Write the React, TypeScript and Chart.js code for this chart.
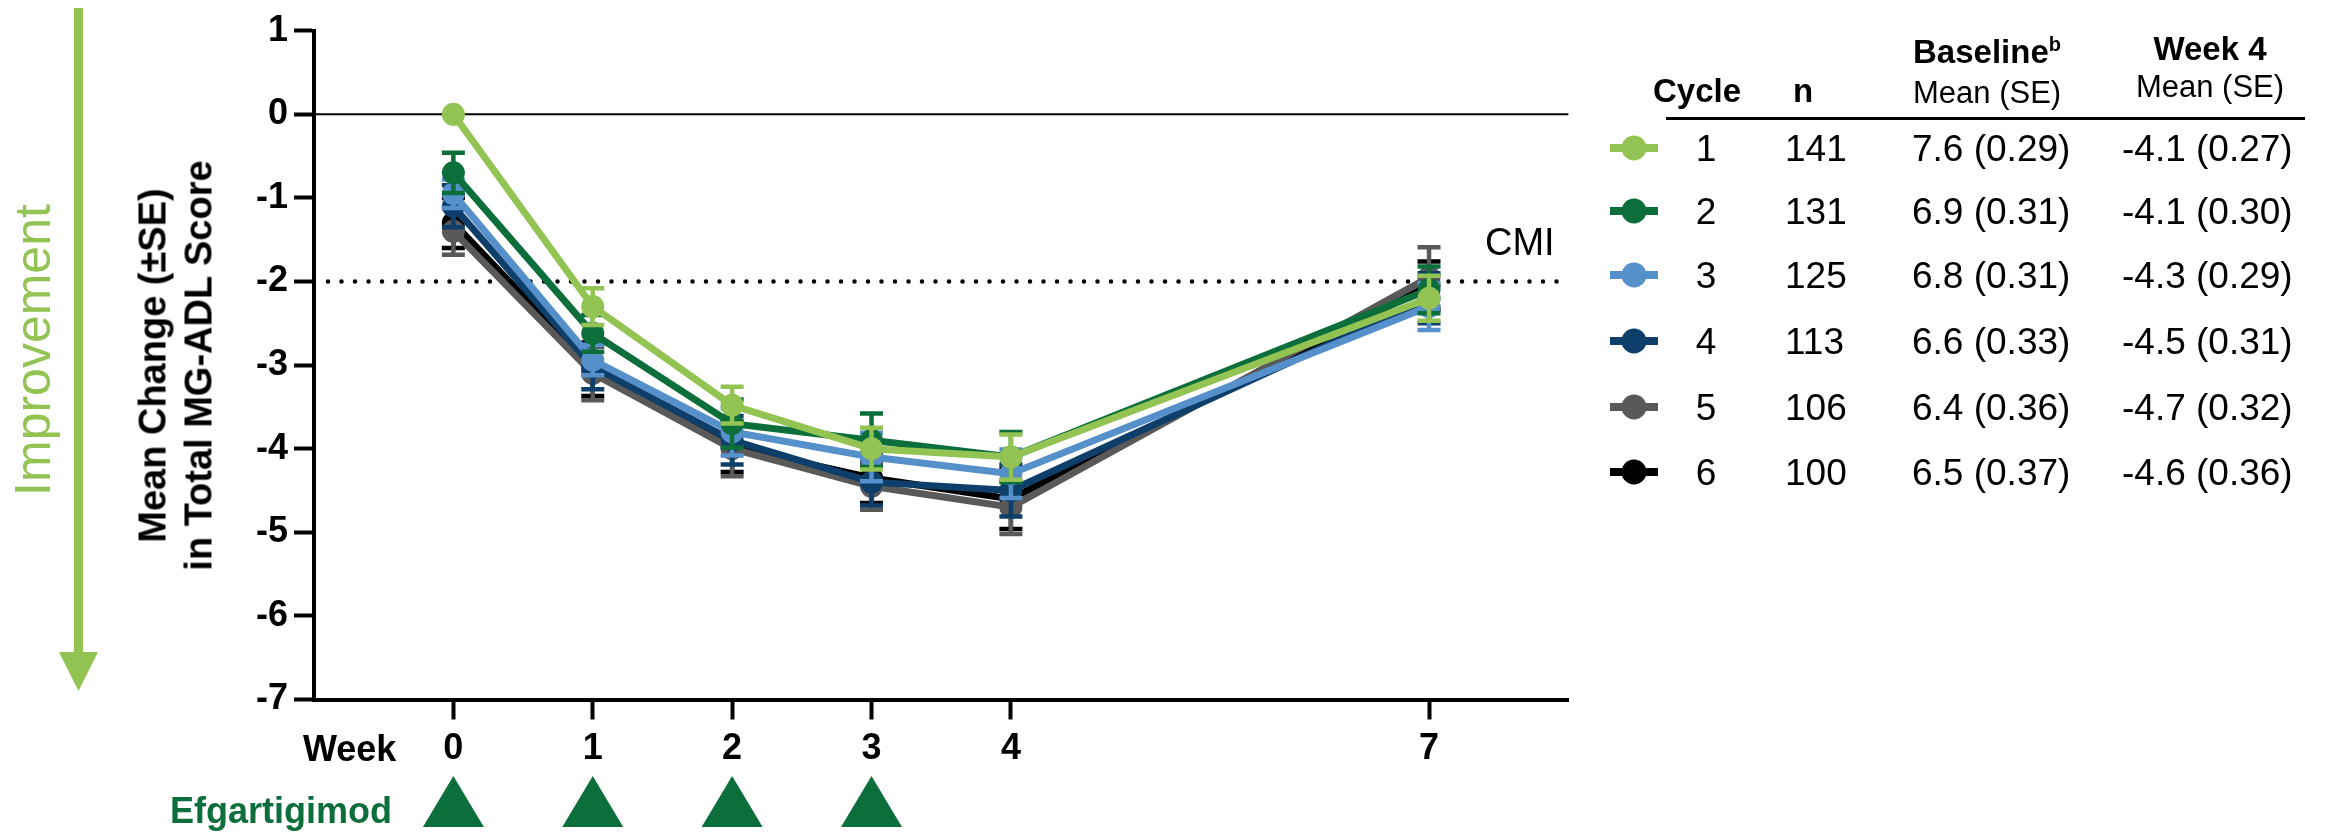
import React, { useEffect, useRef } from "react";
import { Chart, registerables } from "chart.js";

Chart.register(...registerables);

// ---------- data ----------
const weeks = [0, 1, 2, 3, 4, 7];
const weekTickLabels = ["0", "1", "2", "3", "4", "7"];
const doseWeeks = [0, 1, 2, 3];
const yMin = -7;
const yMax = 1;
const cmiValue = -2;

const cycleLabels = ["1", "2", "3", "4", "5", "6"];
const nValues = ["141", "131", "125", "113", "106", "100"];
const baselineValues = ["7.6 (0.29)", "6.9 (0.31)", "6.8 (0.31)", "6.6 (0.33)", "6.4 (0.36)", "6.5 (0.37)"];
const week4Values = ["-4.1 (0.27)", "-4.1 (0.30)", "-4.3 (0.29)", "-4.5 (0.31)", "-4.7 (0.32)", "-4.6 (0.36)"];

const cycle1Mean = [0, -2.3, -3.48, -4.0, -4.1, -2.2];
const cycle1SE = [0, 0.22, 0.22, 0.25, 0.27, 0.27];
const cycle2Mean = [-0.7, -2.62, -3.7, -3.9, -4.1, -2.1];
const cycle2SE = [0.24, 0.22, 0.29, 0.32, 0.3, 0.28];
const cycle3Mean = [-0.95, -2.94, -3.8, -4.1, -4.3, -2.3];
const cycle3SE = [0.17, 0.18, 0.28, 0.29, 0.29, 0.28];
const cycle4Mean = [-1.1, -3.02, -3.9, -4.4, -4.5, -2.2];
const cycle4SE = [0.25, 0.27, 0.29, 0.28, 0.31, 0.3];
const cycle5Mean = [-1.4, -3.1, -4.0, -4.45, -4.7, -1.95];
const cycle5SE = [0.28, 0.32, 0.33, 0.28, 0.32, 0.36];
const cycle6Mean = [-1.3, -3.05, -3.98, -4.35, -4.6, -2.05];
const cycle6SE = [0.3, 0.32, 0.3, 0.3, 0.36, 0.29];

const seriesMeans = [cycle1Mean, cycle2Mean, cycle3Mean, cycle4Mean, cycle5Mean, cycle6Mean];
const seriesSE = [cycle1SE, cycle2SE, cycle3SE, cycle4SE, cycle5SE, cycle6SE];
const seriesColors = ["#92C353", "#0B6E3B", "#5590CB", "#0E3F6B", "#595959", "#000000"];

const doseColor = "#0B6E3B";
const improvementColor = "#92C353";
const FONT = "'Liberation Sans', Arial, Helvetica, sans-serif";

// ---------- plugins ----------
const refLinesPlugin = {
  id: "refLines",
  beforeDatasetsDraw(chart: any) {
    const { ctx, chartArea, scales } = chart;
    const y = scales.y;
    ctx.save();
    ctx.strokeStyle = "#000";
    ctx.lineWidth = 2;
    const y0 = y.getPixelForValue(0);
    ctx.beginPath();
    ctx.moveTo(chartArea.left, y0);
    ctx.lineTo(chartArea.right, y0);
    ctx.stroke();
    ctx.setLineDash([0, 13.5]);
    ctx.lineCap = "round";
    ctx.lineWidth = 4.5;
    const yc = y.getPixelForValue(cmiValue);
    ctx.beginPath();
    ctx.moveTo(chartArea.left + 14, yc);
    ctx.lineTo(chartArea.right, yc);
    ctx.stroke();
    ctx.restore();
  },
};

const errorBarPlugin = {
  id: "errorBars",
  beforeDatasetDraw(chart: any, args: any) {
    const ds: any = chart.data.datasets[args.index];
    const meta = args.meta;
    const y = chart.scales.y;
    const ctx = chart.ctx;
    ctx.save();
    ctx.strokeStyle = ds.borderColor;
    ctx.lineWidth = 4.5;
    ctx.lineCap = "butt";
    meta.data.forEach((pt: any, j: number) => {
      const se = ds.se[j];
      if (!se) return;
      const v = ds.data[j].y;
      const top = y.getPixelForValue(v + se);
      const bot = y.getPixelForValue(v - se);
      const x = pt.x;
      ctx.beginPath();
      ctx.moveTo(x, top);
      ctx.lineTo(x, bot);
      ctx.moveTo(x - 11.5, top);
      ctx.lineTo(x + 11.5, top);
      ctx.moveTo(x - 11.5, bot);
      ctx.lineTo(x + 11.5, bot);
      ctx.stroke();
    });
    ctx.restore();
  },
};

const dosePlugin = {
  id: "doseMarkers",
  afterDraw(chart: any) {
    const { ctx, scales } = chart;
    const x = scales.x;
    ctx.save();
    ctx.fillStyle = doseColor;
    doseWeeks.forEach((w) => {
      const px = x.getPixelForValue(w);
      ctx.beginPath();
      ctx.moveTo(px, 776);
      ctx.lineTo(px + 30.5, 827);
      ctx.lineTo(px - 30.5, 827);
      ctx.closePath();
      ctx.fill();
    });
    ctx.restore();
  },
};

// ---------- small text helper ----------
function T(props: any) {
  const { x, cy, size, weight = 400, color = "#000", align = "left", w = 600, children } = props;
  let left = x;
  if (align === "center") left = x - w / 2;
  if (align === "right") left = x - w;
  return (
    <div
      style={{
        position: "absolute",
        left,
        top: cy - size / 2,
        width: w,
        height: size,
        lineHeight: `${size}px`,
        fontSize: size,
        fontWeight: weight,
        color,
        textAlign: align,
        whiteSpace: "nowrap",
        fontFamily: FONT,
      }}
    >
      {children}
    </div>
  );
}

const rowCenters = [148, 211, 275, 341, 407, 472];

export default function App() {
  const canvasRef = useRef<HTMLCanvasElement | null>(null);

  useEffect(() => {
    if (!canvasRef.current) return;
    const tickFont = { family: FONT, size: 36, weight: "bold" as const };
    const datasets = seriesMeans.map((m, i) => ({
      label: `Cycle ${cycleLabels[i]}`,
      data: weeks.map((w, j) => ({ x: w, y: m[j] })),
      se: seriesSE[i],
      borderColor: seriesColors[i],
      backgroundColor: seriesColors[i],
      borderWidth: 7,
      pointRadius: 11.5,
      pointBorderWidth: 0,
      pointBackgroundColor: seriesColors[i],
      tension: 0,
    }));
    const chart = new Chart(canvasRef.current, {
      type: "line",
      data: { datasets: datasets as any },
      options: {
        animation: false,
        responsive: false,
        devicePixelRatio: 1,
        events: [],
        layout: { padding: { left: 0, top: 30.7, right: 757.6, bottom: 0 } },
        plugins: { legend: { display: false }, tooltip: { enabled: false } },
        scales: {
          x: {
            type: "linear",
            min: -1,
            max: 8,
            afterBuildTicks: (s: any) => {
              s.ticks = weeks.map((v) => ({ value: v }));
            },
            afterFit: (s: any) => {
              s.height = 132.5;
            },
            grid: { drawOnChartArea: false, drawTicks: true, tickLength: 20, tickWidth: 4, tickColor: "#000" },
            border: { display: true, color: "#000", width: 4 },
            ticks: {
              color: "#000",
              font: tickFont,
              padding: 8,
              autoSkip: false,
              maxRotation: 0,
              callback: (v: any) => {
                const idx = weeks.indexOf(Number(v));
                return idx >= 0 ? weekTickLabels[idx] : "";
              },
            },
          },
          y: {
            type: "linear",
            min: yMin,
            max: yMax,
            afterFit: (s: any) => {
              s.width = 314;
            },
            grid: { drawOnChartArea: false, drawTicks: true, tickLength: 20, tickWidth: 4, tickColor: "#000" },
            border: { display: true, color: "#000", width: 4 },
            ticks: { stepSize: 1, color: "#000", font: tickFont, padding: 6 },
          },
        },
      },
      plugins: [refLinesPlugin, errorBarPlugin, dosePlugin],
    });
    return () => chart.destroy();
  }, []);

  return (
    <div style={{ position: "absolute", left: 0, top: 0, width: 2326, height: 832, background: "#fff", overflow: "hidden", fontFamily: FONT }}>
      <canvas ref={canvasRef} width={2326} height={832} style={{ position: "absolute", left: 0, top: 0 }} />

      {/* Improvement arrow */}
      <svg width={120} height={700} style={{ position: "absolute", left: 0, top: 0 }}>
        <line x1={78.5} y1={8} x2={78.5} y2={655} stroke={improvementColor} strokeWidth={9} />
        <polygon points="59,652 98,652 78.5,691" fill={improvementColor} />
      </svg>
      <div
        style={{
          position: "absolute",
          left: 32.5 - 200,
          top: 350 - 25,
          width: 400,
          height: 50,
          lineHeight: "50px",
          fontSize: 50,
          color: improvementColor,
          textAlign: "center",
          transform: "rotate(-90deg)",
          whiteSpace: "nowrap",
          fontFamily: FONT,
        }}
      >
        Improvement
      </div>

      {/* Y axis title */}
      <div
        style={{
          position: "absolute",
          left: 176 - 300,
          top: 365 - 45.5,
          width: 600,
          height: 91,
          lineHeight: "45.5px",
          fontSize: 38,
          fontWeight: 700,
          color: "#000",
          textAlign: "center",
          transform: "rotate(-90deg)",
          whiteSpace: "nowrap",
          fontFamily: FONT,
        }}
      >
        <div>Mean Change (±SE)</div>
        <div>in Total MG-ADL Score</div>
      </div>

      <T x={1485} cy={241.7} size={38}>CMI</T>
      <T x={303} cy={748.5} size={36} weight={700}>Week</T>
      <T x={170} cy={810.5} size={36} weight={700} color={doseColor}>Efgartigimod</T>

      {/* Table header */}
      <T x={1697} cy={90.5} size={33} weight={700} align="center" w={200}>Cycle</T>
      <T x={1803} cy={90.5} size={33} weight={700} align="center" w={100}>n</T>
      <T x={1913} cy={51.5} size={33} weight={700}>
        Baseline<span style={{ fontSize: 20, position: "relative", top: -12 }}>b</span>
      </T>
      <T x={1913} cy={92} size={31}>Mean (SE)</T>
      <T x={2210} cy={48} size={33} weight={700} align="center" w={300}>Week 4</T>
      <T x={2210} cy={86.5} size={31} align="center" w={300}>Mean (SE)</T>
      <div style={{ position: "absolute", left: 1666, top: 116.5, width: 639, height: 3, background: "#000" }} />

      {/* Table rows */}
      <svg width={80} height={520} style={{ position: "absolute", left: 1590, top: 0 }}>
        {rowCenters.map((cy, i) => (
          <g key={i}>
            <line x1={20} y1={cy} x2={68} y2={cy} stroke={seriesColors[i]} strokeWidth={8} />
            <ellipse cx={44} cy={cy} rx={12.5} ry={12.5} fill={seriesColors[i]} />
          </g>
        ))}
      </svg>
      {rowCenters.map((cy, i) => (
        <React.Fragment key={i}>
          <T x={1706} cy={cy} size={37} align="center" w={100}>{cycleLabels[i]}</T>
          <T x={1785} cy={cy} size={37}>{nValues[i]}</T>
          <T x={1912} cy={cy} size={37}>{baselineValues[i]}</T>
          <T x={2122} cy={cy} size={37}>{week4Values[i]}</T>
        </React.Fragment>
      ))}
    </div>
  );
}
